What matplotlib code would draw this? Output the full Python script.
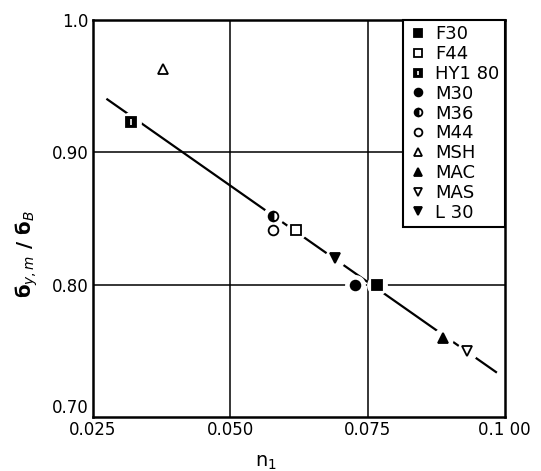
import matplotlib
matplotlib.use("Agg")
import matplotlib.pyplot as plt
import numpy as np

labels = ["F30", "F44", "HY180", "M30", "M36", "M44", "MSH", "MAC", "MAS", "L30"]
n_vals = [0.0767, 0.0620, 0.0319, 0.0727, 0.0578, 0.0578, 0.0378, 0.0888, 0.0931, 0.0691]
ratio_vals = [0.800, 0.841, 0.923, 0.800, 0.852, 0.841, 0.963, 0.760, 0.750, 0.820]

fit_x = [0.0276, 0.0984]
fit_y = [0.940, 0.734]

xticks = [0.025, 0.050, 0.075, 0.100]
xticklabels = ["0.025", "0.050", "0.075", "0.1 00"]
yticks = [0.70, 0.80, 0.90, 1.0]
yticklabels = ["0.70", "0.80", "0.90", "1.0"]

styles = {
    "F30": dict(marker="s", mfc="black"),
    "F44": dict(marker="s", mfc="white"),
    "HY180": dict(marker="s", mfc="black"),
    "M30": dict(marker="o", mfc="black"),
    "M36": dict(marker="o", mfc="black", fillstyle="left", mfcalt="white"),
    "M44": dict(marker="o", mfc="white"),
    "MSH": dict(marker="^", mfc="white"),
    "MAC": dict(marker="^", mfc="black"),
    "MAS": dict(marker="v", mfc="white"),
    "L30": dict(marker="v", mfc="black"),
}

fig = plt.figure(figsize=(5.41, 4.71), dpi=100)
ax = fig.add_axes([0.172, 0.1146, 0.761, 0.843])

ax.plot(fit_x, fit_y, color="black", lw=1.6, zorder=2)

for v in [0.050, 0.075]:
    ax.axvline(v, color="black", lw=1.1, zorder=1)
for v in [0.80, 0.90]:
    ax.axhline(v, color="black", lw=1.1, zorder=1)

handles = []
for lab, x, y in zip(labels, n_vals, ratio_vals):
    st = styles[lab]
    ax.plot([x], [y], marker="o", ms=15, mfc="white", mec="none", ls="none", zorder=3)
    h, = ax.plot([x], [y], ls="none", ms=7, mec="black", mew=1.3, zorder=4, **st)
    if lab == "HY180":
        h2, = ax.plot([x], [y], ls="none", marker="|", ms=4, mec="white", mew=1.2, zorder=5)
        handles.append((h, h2))
    else:
        handles.append(h)

ax.set_xlim(0.025, 0.100)
ax.set_ylim(0.70, 1.0)
ax.set_xticks(xticks)
ax.set_xticklabels(xticklabels)
ax.set_yticks(yticks)
ax.set_yticklabels(yticklabels)
ax.tick_params(length=0, labelsize=12, pad=3)
ax.get_yticklabels()[0].set_verticalalignment("bottom")
for s in ax.spines.values():
    s.set_linewidth(1.8)

ax.set_ylabel("б$_{y,m}$ / б$_B$", fontsize=14, fontweight="bold")
ax.yaxis.set_label_coords(-0.13, 0.41)
ax.set_xlabel("n$_1$", fontsize=14, va="top")
ax.xaxis.set_label_coords(0.42, -0.09)

leg = ax.legend(handles, [l.replace("HY180", "HY1 80").replace("L30", "L 30") for l in labels],
                loc="upper right", borderaxespad=0, fontsize=13, handlelength=1.0,
                handletextpad=0.45, labelspacing=0.1, borderpad=0.3, fancybox=False,
                framealpha=1, edgecolor="black", markerscale=0.8)
leg.get_frame().set_linewidth(1.5)

fig.savefig("out.png", dpi=100)
